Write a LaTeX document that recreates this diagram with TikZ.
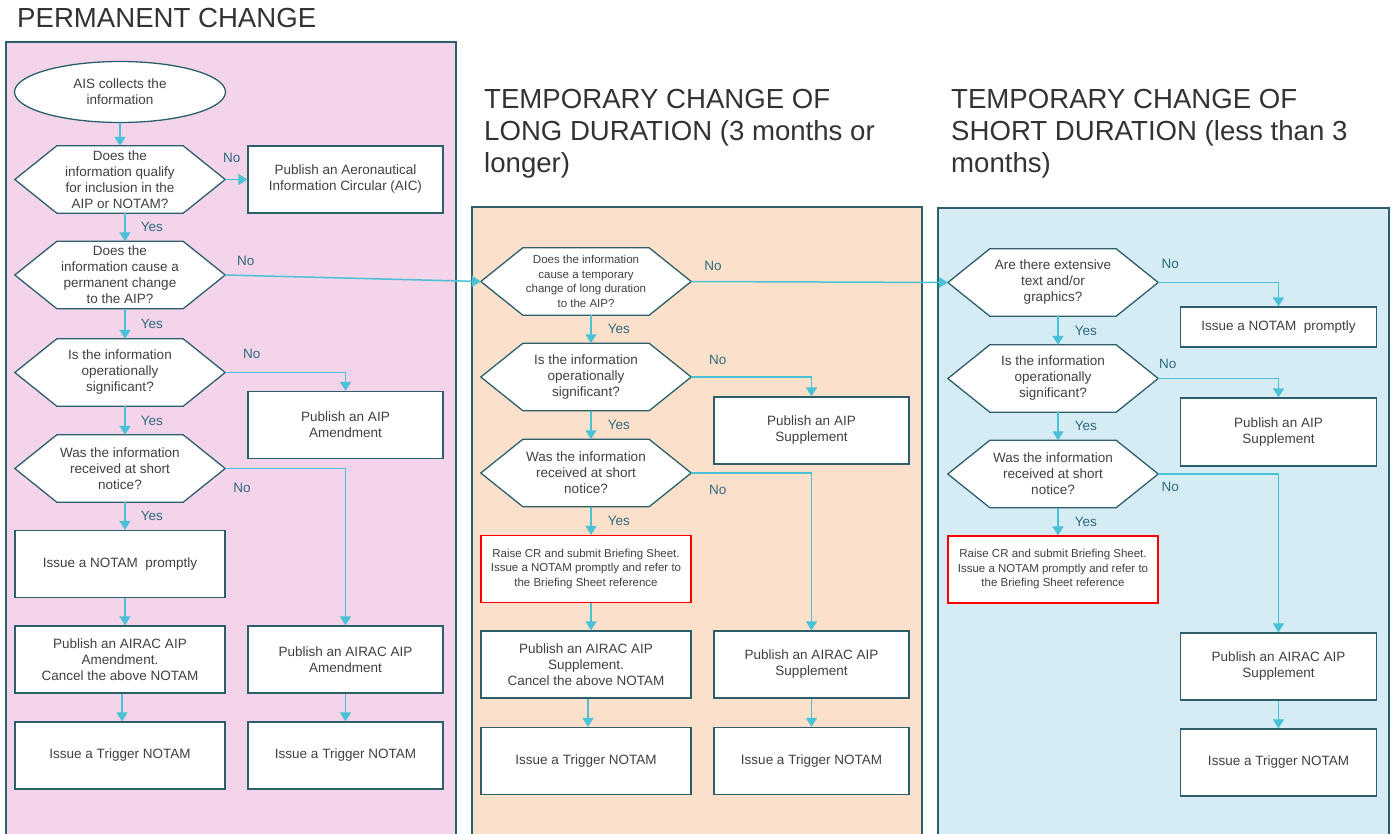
\documentclass[tikz,border=0pt]{standalone}
\usepackage{fontspec}
\setmainfont{Liberation Sans}
\usetikzlibrary{shapes.geometric,arrows.meta}
\definecolor{pinkbg}{HTML}{F3D4EA}
\definecolor{peachbg}{HTML}{FBE0CB}
\definecolor{bluebg}{HTML}{D6ECF5}
\definecolor{edgeteal}{HTML}{2D5F6B}
\definecolor{flowcyan}{HTML}{4AC1D6}
\definecolor{labteal}{HTML}{2F6A7E}
\definecolor{bodygray}{HTML}{404040}
\definecolor{headgray}{HTML}{333333}
\pgfdeclarelayer{panels}
\pgfdeclarelayer{hexes}
\pgfsetlayers{panels,hexes,main}

\begin{document}
\begin{tikzpicture}[
	x=1pt, y=-1pt,
	font=\fontsize{13.5}{16}\selectfont,
	every node/.style={text=bodygray},
	heading/.style={anchor=north west, inner sep=0pt, align=left, text=headgray, font=\fontsize{27.6}{32}\selectfont},
	panel/.style={draw=edgeteal, line width=1.5pt},
	start/.style={ellipse, draw=edgeteal, fill=white, line width=1.3pt, minimum width=211pt, minimum height=61pt, inner sep=0pt, align=center},
	question/.style={minimum width=210pt, minimum height=67pt, inner sep=0pt, align=center},
	hexline/.style={draw=edgeteal, fill=white, line width=1.3pt},
	action/.style={rectangle, draw=edgeteal, fill=white, line width=1.3pt, minimum width=195pt, minimum height=67pt, inner sep=2pt, align=center},
	wide/.style={action, minimum width=210pt},
	report/.style={wide, draw=red, font=\fontsize{11.5}{14.5}\selectfont},
	flow/.style={draw=flowcyan, line width=1.5pt, -{Triangle[width=11pt,length=9pt]}},
	lab/.style={text=labteal, inner sep=0pt},
	]
\useasboundingbox (0,0) rectangle (1392,834);

\begin{pgfonlayer}{panels}
	\draw[panel, fill=pinkbg] (6,42) rectangle (456,850);
	\draw[panel, fill=peachbg] (472,207) rectangle (922,850);
	\draw[panel, fill=bluebg] (938,208) rectangle (1389,850);
\end{pgfonlayer}

\node[heading] (h1) at (17,8) {PERMANENT CHANGE};
\node[heading] (h2) at (484,89) {TEMPORARY CHANGE OF\\LONG DURATION (3 months or\\longer)};
\node[heading] (h3) at (951,89) {TEMPORARY CHANGE OF\\SHORT DURATION (less than 3\\months)};

% permanent change
\node[start] (s0) at (120,92) {AIS collects the\\information};
\node[question] (a1) at (120,179.5) {Does the\\information qualify\\for inclusion in the\\AIP or NOTAM?};
\node[action] (aic) at (345.5,179.5) {Publish an Aeronautical\\Information Circular (AIC)};
\node[question] (a2) at (120,275) {Does the\\information cause a\\permanent change\\to the AIP?};
\node[question] (a3) at (120,372.5) {Is the information\\operationally\\significant?};
\node[action] (amd) at (345.5,425) {Publish an AIP\\Amendment};
\node[question] (a4) at (120,468.5) {Was the information\\received at short\\notice?};
\node[wide] (nt1) at (120,564) {Issue a NOTAM\ \ promptly};
\node[wide] (airac1) at (120,659.5) {Publish an AIRAC AIP\\Amendment.\\Cancel the above NOTAM};
\node[action] (airac2) at (345.5,659.5) {Publish an AIRAC AIP\\Amendment};
\node[wide] (tr1) at (120,755.5) {Issue a Trigger NOTAM};
\node[action] (tr2) at (345.5,755.5) {Issue a Trigger NOTAM};

% long duration
\node[question, font=\fontsize{11.5}{14.5}\selectfont] (b1) at (586,281.5) {Does the information\\cause a temporary\\change of long duration\\to the AIP?};
\node[question] (b2) at (586,377) {Is the information\\operationally\\significant?};
\node[action] (sup1) at (811.5,430.5) {Publish an AIP\\Supplement};
\node[question] (b3) at (586,473) {Was the information\\received at short\\notice?};
\node[report] (cr1) at (586,569) {Raise CR and submit Briefing Sheet.\\Issue a NOTAM promptly and refer to\\the Briefing Sheet reference};
\node[wide] (airac3) at (586,664.5) {Publish an AIRAC AIP\\Supplement.\\Cancel the above NOTAM};
\node[action] (airac4) at (811.5,664.5) {Publish an AIRAC AIP\\Supplement};
\node[wide] (tr3) at (586,761) {Issue a Trigger NOTAM};
\node[action] (tr4) at (811.5,761) {Issue a Trigger NOTAM};

% short duration
\node[question] (c1) at (1053,282.5) {Are there extensive\\text and/or\\graphics?};
\node[action, minimum width=196pt, minimum height=40pt] (nt2) at (1278.5,327) {Issue a NOTAM\ \ promptly};
\node[question] (c2) at (1053,378.5) {Is the information\\operationally\\significant?};
\node[action, minimum width=196pt, minimum height=68pt] (sup2) at (1278.5,432) {Publish an AIP\\Supplement};
\node[question] (c3) at (1053,474) {Was the information\\received at short\\notice?};
\node[report] (cr2) at (1053,569.5) {Raise CR and submit Briefing Sheet.\\Issue a NOTAM promptly and refer to\\the Briefing Sheet reference};
\node[action, minimum width=196pt] (airac5) at (1278.5,666.5) {Publish an AIRAC AIP\\Supplement};
\node[action, minimum width=196pt] (tr5) at (1278.5,762.5) {Issue a Trigger NOTAM};

\begin{pgfonlayer}{hexes}
	\foreach \q in {a1,a2,a3,a4,b1,b2,b3,c1,c2,c3}
		\draw[hexline] (\q.west) -- ([xshift=42pt]\q.north west) -- ([xshift=-42pt]\q.north east)
			-- (\q.east) -- ([xshift=-42pt]\q.south east) -- ([xshift=42pt]\q.south west) -- cycle;
\end{pgfonlayer}

\draw[flow] (s0) -- (a1);
\draw[flow] (a1.east) -- node[lab, pos=.3, above=16pt] {No} (aic.west);
\draw[flow] ([xshift=5pt]a1.south) -- node[lab, right=15pt] {Yes} ([xshift=5pt]a2.north);
\draw[flow] (a2.east) -- node[lab, pos=.08, above=9pt] {No} (b1.west);
\draw[flow] ([xshift=5pt]a2.south) -- node[lab, right=15pt] {Yes} ([xshift=5pt]a3.north);
\draw[flow] (a3.east) -| node[lab, pos=.11, above=13pt] {No} (amd.north);
\draw[flow] ([xshift=5pt]a3.south) -- node[lab, right=15pt] {Yes} ([xshift=5pt]a4.north);
\draw[flow] (a4.east) -| node[lab, pos=.07, below=14pt] {No} (airac2.north);
\draw[flow] ([xshift=5pt]a4.south) -- node[lab, right=15pt] {Yes} ([xshift=5pt]nt1.north);
\draw[flow] ([xshift=5pt]nt1.south) -- ([xshift=5pt]airac1.north);
\draw[flow] ([xshift=2pt]airac1.south) -- ([xshift=2pt]tr1.north);
\draw[flow] (airac2) -- (tr2);

\draw[flow] (b1.east) -- node[lab, pos=.085, above=10pt] {No} (c1.west);
\draw[flow] ([xshift=5pt]b1.south) -- node[lab, right=16pt] {Yes} ([xshift=5pt]b2.north);
\draw[flow] (b2.east) -| node[lab, pos=.11, above=12pt] {No} (sup1.north);
\draw[flow] ([xshift=5pt]b2.south) -- node[lab, right=16pt] {Yes} ([xshift=5pt]b3.north);
\draw[flow] (b3.east) -| node[lab, pos=.11, below=11pt] {No} (airac4.north);
\draw[flow] ([xshift=5pt]b3.south) -- node[lab, right=16pt] {Yes} ([xshift=5pt]cr1.north);
\draw[flow] ([xshift=5pt]cr1.south) -- ([xshift=5pt]airac3.north);
\draw[flow] ([xshift=2pt]airac3.south) -- ([xshift=2pt]tr3.north);
\draw[flow] (airac4) -- (tr4);

\draw[flow] (c1.east) -| node[lab, pos=.05, above=13pt] {No} (nt2.north);
\draw[flow] ([xshift=5pt]c1.south) -- node[lab, right=16pt] {Yes} ([xshift=5pt]c2.north);
\draw[flow] (c2.east) -| node[lab, pos=.04, above=9pt] {No} (sup2.north);
\draw[flow] ([xshift=5pt]c2.south) -- node[lab, right=16pt] {Yes} ([xshift=5pt]c3.north);
\draw[flow] (c3.east) -| node[lab, pos=.05, below=7pt] {No} (airac5.north);
\draw[flow] ([xshift=5pt]c3.south) -- node[lab, right=16pt] {Yes} ([xshift=5pt]cr2.north);
\draw[flow] (airac5) -- (tr5);
\end{tikzpicture}
\end{document}
